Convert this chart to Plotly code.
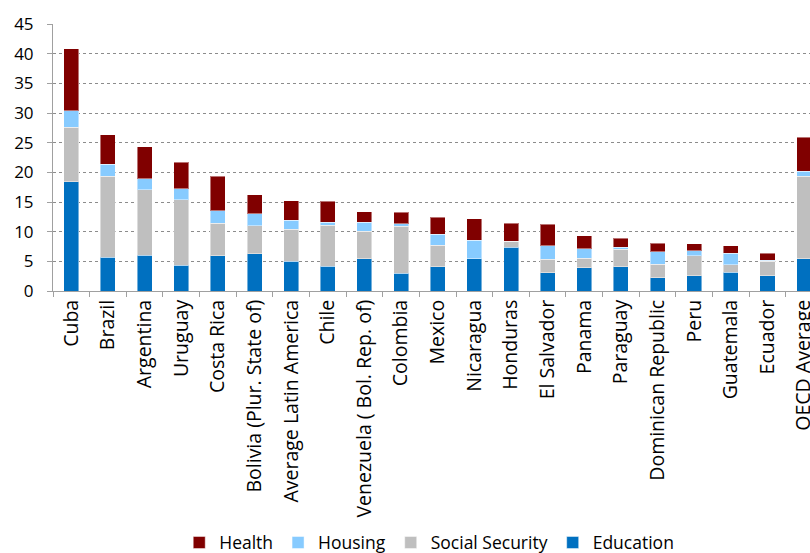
import plotly.graph_objects as go

countries = ["Cuba", "Brazil", "Argentina", "Uruguay", "Costa Rica",
             "Bolivia (Plur. State of)", "Average Latin America", "Chile",
             "Venezuela ( Bol. Rep. of)", "Colombia", "Mexico", "Nicaragua",
             "Honduras", "El Salvador", "Panama", "Paraguay",
             "Dominican Republic", "Peru", "Guatemala", "Ecuador", "OECD Average"]

education = [18.4, 5.7, 6.0, 4.3, 5.95, 6.3, 5.0, 4.2, 5.4, 3.0, 4.05, 5.4,
             7.4, 3.05, 3.95, 4.1, 2.25, 2.6, 3.2, 2.6, 5.45]
social_security = [9.2, 13.6, 11.1, 11.05, 5.45, 4.7, 5.4, 6.9, 4.65, 7.9, 3.7, 0.0,
                   0.95, 2.3, 1.55, 2.9, 2.25, 3.35, 1.25, 2.45, 13.9]
housing = [2.8, 2.1, 1.8, 1.85, 2.1, 2.0, 1.55, 0.45, 1.55, 0.45, 1.85, 3.15,
           0.0, 2.3, 1.6, 0.4, 2.15, 0.8, 1.9, 0.1, 0.8]
health = [10.45, 4.95, 5.4, 4.5, 5.8, 3.2, 3.3, 3.6, 1.75, 1.95, 2.85, 3.65,
          3.05, 3.6, 2.25, 1.45, 1.4, 1.2, 1.25, 1.25, 5.8]

series = [
    ("Education", education, "#0070C0"),
    ("Social Security", social_security, "#BFBFBF"),
    ("Housing", housing, "#87CBFF"),
    ("Health", health, "#800000"),
]

FONT = "Open Sans"

fig = go.Figure()
for name, vals, color in series:
    fig.add_trace(go.Bar(
        x=countries, y=vals, name=name,
        marker=dict(color=color, line=dict(color="rgba(255,255,255,0.45)", width=1)),
    ))

fig.update_layout(
    width=810, height=553,
    barmode="stack",
    bargap=0.59,
    plot_bgcolor="white",
    paper_bgcolor="white",
    margin=dict(l=53, r=0, t=24, b=262, autoexpand=False),
    font=dict(family=FONT, size=17, color="#000000"),
    showlegend=True,
    legend=dict(
        orientation="h", traceorder="reversed",
        x=0.497, xanchor="center", y=-0.875, yanchor="top",
        font=dict(family=FONT, size=17.5, color="#000000"),
        itemwidth=30,
    ),
    xaxis=dict(
        range=[-0.5, 20.16],
        tickangle=-90,
        ticks="outside", tickson="boundaries", ticklen=5,
        tickcolor="#A0A0A0",
        showline=True, linecolor="#A0A0A0", linewidth=1,
        showgrid=False, automargin=False,
        tickfont=dict(family=FONT, size=19.5),
    ),
    yaxis=dict(
        range=[0, 45], dtick=5,
        ticks="outside", ticklen=5, tickcolor="#A0A0A0",
        showline=True, linecolor="#A0A0A0", linewidth=1,
        showgrid=True, gridcolor="#8C8C8C", griddash="dot", gridwidth=1,
        zeroline=False, automargin=False,
        ticklabelstandoff=10,
        tickfont=dict(family=FONT, size=17),
    ),
)

fig.write_html("out.html")
